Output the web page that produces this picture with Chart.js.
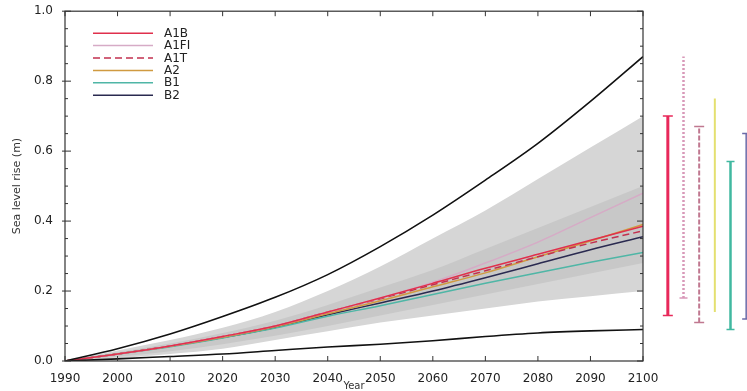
<!DOCTYPE html>
<html lang="en">
<head>
<meta charset="UTF-8">
<title>Sea level rise - SRES scenarios</title>
<script src="https://cdn.jsdelivr.net/npm/chart.js"></script>
<style>
  html, body { margin: 0; padding: 0; background: #fff; overflow: hidden; }
  #wrap { position: relative; width: 747px; height: 391px; overflow: hidden; }
  #seaChart { position: absolute; left: 0; top: 0; }
  #rangeChart { position: absolute; left: 660px; top: 0; }
</style>
</head>
<body>
<div id="wrap">
  <canvas id="seaChart" width="747" height="391"></canvas>
  <canvas id="rangeChart" width="94" height="391"></canvas>
</div>

<script>
// --- data ---
const years = [1990, 2000, 2010, 2020, 2030, 2040, 2050, 2060, 2070, 2080, 2090, 2100];

// outermost lines (all SRES envelope incl. land-ice uncertainty)
const envelopeHigh = [0, 0.035, 0.077, 0.127, 0.182, 0.247, 0.327, 0.417, 0.517, 0.622, 0.742, 0.87];
const envelopeLow  = [0, 0.006, 0.013, 0.02, 0.03, 0.04, 0.048, 0.058, 0.07, 0.08, 0.086, 0.09];

// shaded ranges
const outerHigh = [0, 0.03, 0.06, 0.095, 0.14, 0.2, 0.27, 0.35, 0.43, 0.52, 0.61, 0.7];
const outerLow  = [0, 0.008, 0.02, 0.035, 0.06, 0.085, 0.11, 0.13, 0.15, 0.17, 0.185, 0.2];
const innerHigh = [0, 0.025, 0.05, 0.08, 0.115, 0.16, 0.21, 0.26, 0.32, 0.38, 0.44, 0.5];
const innerLow  = [0, 0.012, 0.028, 0.048, 0.072, 0.1, 0.13, 0.16, 0.19, 0.22, 0.25, 0.28];

// scenario averages
const scenarioNames = ['A1B', 'A1FI', 'A1T', 'A2', 'B1', 'B2'];
const a1b  = [0, 0.02, 0.043, 0.07, 0.1, 0.14, 0.18, 0.222, 0.265, 0.305, 0.345, 0.385];
const a1fi = [0, 0.02, 0.043, 0.07, 0.1, 0.14, 0.18, 0.225, 0.28, 0.34, 0.41, 0.48];
const a1t  = [0, 0.02, 0.043, 0.07, 0.1, 0.14, 0.178, 0.218, 0.258, 0.298, 0.337, 0.372];
const a2   = [0, 0.02, 0.042, 0.068, 0.098, 0.135, 0.172, 0.212, 0.252, 0.298, 0.343, 0.39];
const b1   = [0, 0.02, 0.041, 0.066, 0.094, 0.128, 0.158, 0.19, 0.222, 0.252, 0.282, 0.31];
const b2   = [0, 0.02, 0.042, 0.067, 0.096, 0.132, 0.166, 0.2, 0.238, 0.278, 0.318, 0.355];

// 2100 ranges shown as bars on the right
const rangeLow  = [0.13, 0.18, 0.11, 0.14, 0.09, 0.12];
const rangeHigh = [0.70, 0.87, 0.67, 0.75, 0.57, 0.65];

Chart.defaults.font.family = "'DejaVu Sans', sans-serif";
Chart.defaults.color = '#222';

const pts = arr => years.map((yr, i) => ({ x: yr, y: arr[i] }));

const lineDs = (label, data, color, width, dash, order) => ({
  label: label,
  data: pts(data),
  borderColor: color,
  backgroundColor: color,
  borderWidth: width,
  borderDash: dash,
  pointRadius: 0,
  fill: false,
  cubicInterpolationMode: 'monotone',
  order: order
});

const bandDs = (label, data, fill, color, order) => ({
  label: label,
  data: pts(data),
  borderColor: 'rgba(0,0,0,0)',
  backgroundColor: color,
  borderWidth: 1,
  pointRadius: 0,
  fill: fill,
  cubicInterpolationMode: 'monotone',
  order: order
});

const scenarioStyle = [
  { color: '#e0304c', dash: [] },
  { color: '#d6abc6', dash: [] },
  { color: '#c2304f', dash: [7, 4] },
  { color: '#d09a40', dash: [] },
  { color: '#4fb6a6', dash: [] },
  { color: '#2a2a50', dash: [] }
];
const scenarioData = [a1b, a1fi, a1t, a2, b1, b2];

// frame with inward tick marks on all four sides
const frameTicks = {
  id: 'frameTicks',
  afterDatasetsDraw(chart) {
    const { ctx, chartArea: a, scales: { x, y } } = chart;
    ctx.save();
    ctx.strokeStyle = '#333';
    ctx.lineWidth = 1.2;
    ctx.setLineDash([]);
    ctx.strokeRect(a.left, a.top, a.right - a.left, a.bottom - a.top);
    ctx.lineWidth = 1;
    ctx.beginPath();
    x.ticks.forEach(t => {
      const px = x.getPixelForValue(t.value);
      ctx.moveTo(px, a.bottom); ctx.lineTo(px, a.bottom - 5);
      ctx.moveTo(px, a.top); ctx.lineTo(px, a.top + 5);
    });
    y.ticks.forEach(t => {
      const py = y.getPixelForValue(t.value);
      const len = t.label !== '' ? 6 : 3;
      ctx.moveTo(a.left - (len > 3 ? 3 : 0), py); ctx.lineTo(a.left + len, py);
      ctx.moveTo(a.right, py); ctx.lineTo(a.right - len, py);
    });
    ctx.stroke();
    ctx.restore();
  }
};

// legend drawn inside the plot, top-left
const insideLegend = {
  id: 'insideLegend',
  afterDatasetsDraw(chart) {
    const { ctx, chartArea: a } = chart;
    ctx.save();
    ctx.font = "12px 'DejaVu Sans', sans-serif";
    ctx.textBaseline = 'middle';
    chart.data.datasets.filter(d => scenarioNames.includes(d.label)).forEach((d, i) => {
      const yy = a.top + 22 + i * 12.4;
      ctx.beginPath();
      ctx.setLineDash(d.borderDash || []);
      ctx.strokeStyle = d.borderColor;
      ctx.lineWidth = d.borderWidth;
      ctx.moveTo(a.left + 28, yy);
      ctx.lineTo(a.left + 88, yy);
      ctx.stroke();
      ctx.setLineDash([]);
      ctx.fillStyle = '#222';
      ctx.fillText(d.label, a.left + 99, yy + 0.5);
    });
    ctx.restore();
  }
};

const datasets = [
  lineDs('upper envelope', envelopeHigh, '#111', 1.6, [], 0),
  lineDs('lower envelope', envelopeLow, '#111', 1.6, [], 0)
];
scenarioNames.forEach((name, i) => {
  datasets.push(lineDs(name, scenarioData[i], scenarioStyle[i].color, 1.5, scenarioStyle[i].dash, 1));
});
datasets.push(bandDs('all models high', outerHigh, '+1', 'rgb(214,214,214)', 3));
datasets.push(bandDs('all models low', outerLow, false, 'rgb(214,214,214)', 3));
datasets.push(bandDs('model average high', innerHigh, '+1', 'rgb(200,200,200)', 2));
datasets.push(bandDs('model average low', innerLow, false, 'rgb(200,200,200)', 2));

new Chart(document.getElementById('seaChart'), {
  type: 'line',
  data: { datasets: datasets },
  options: {
    responsive: false,
    animation: false,
    layout: { autoPadding: false, padding: { top: 11, right: 104, left: 0, bottom: 0 } },
    scales: {
      x: {
        type: 'linear',
        min: 1990,
        max: 2100,
        grid: { display: false },
        border: { display: false },
        ticks: {
          stepSize: 10,
          autoSkip: false,
          maxRotation: 0,
          padding: 3,
          color: '#222',
          font: { size: 12 },
          callback: v => String(v)
        },
        title: {
          display: true,
          text: 'Year',
          color: '#333',
          font: { size: 10, lineHeight: 1 },
          padding: { top: 0, bottom: 0 }
        },
        afterFit: s => { s.height = 30; }
      },
      y: {
        min: 0,
        max: 1,
        grid: { display: false },
        border: { display: false },
        ticks: {
          stepSize: 0.05,
          autoSkip: false,
          padding: 4,
          color: '#222',
          font: { size: 12 },
          callback: v => (Math.round(v * 100) % 20 === 0 ? v.toFixed(1) : '')
        },
        title: {
          display: true,
          text: 'Sea level rise (m)',
          color: '#333',
          font: { size: 11, lineHeight: 1 },
          padding: { top: 12, bottom: 0 }
        },
        afterFit: s => { s.width = 65; }
      }
    },
    plugins: {
      legend: { display: false },
      tooltip: { enabled: false }
    }
  },
  plugins: [frameTicks, insideLegend]
});

// range bars for 2100, one per scenario
const rangeStyle = [
  { color: '#e8285a', width: 3, dash: [], caps: [5, 5] },
  { color: '#d898b8', width: 2.5, dash: [2, 2], caps: [4, 0] },
  { color: '#c07890', width: 2, dash: [5, 2], caps: [5, 5] },
  { color: '#e4e070', width: 2, dash: [], caps: [0, 0] },
  { color: '#40b8a0', width: 2.5, dash: [], caps: [4, 4] },
  { color: '#6a6aa8', width: 1.5, dash: [], caps: [4, 4] }
];

new Chart(document.getElementById('rangeChart'), {
  type: 'line',
  data: {
    labels: scenarioNames,
    datasets: scenarioNames.map((name, i) => ({
      label: name,
      data: [{ x: name, y: rangeLow[i] }, { x: name, y: rangeHigh[i] }],
      borderColor: rangeStyle[i].color,
      borderWidth: rangeStyle[i].width,
      borderDash: rangeStyle[i].dash,
      pointStyle: 'line',
      pointRadius: rangeStyle[i].caps,
      pointBorderColor: rangeStyle[i].color,
      pointBorderWidth: 1.5
    }))
  },
  options: {
    responsive: false,
    animation: false,
    layout: { autoPadding: false, padding: { top: 11, bottom: 30, left: 0, right: 0 } },
    scales: {
      x: { type: 'category', offset: true, display: false },
      y: { min: 0, max: 1, display: false }
    },
    plugins: {
      legend: { display: false },
      tooltip: { enabled: false }
    }
  }
});
</script>
</body>
</html>
